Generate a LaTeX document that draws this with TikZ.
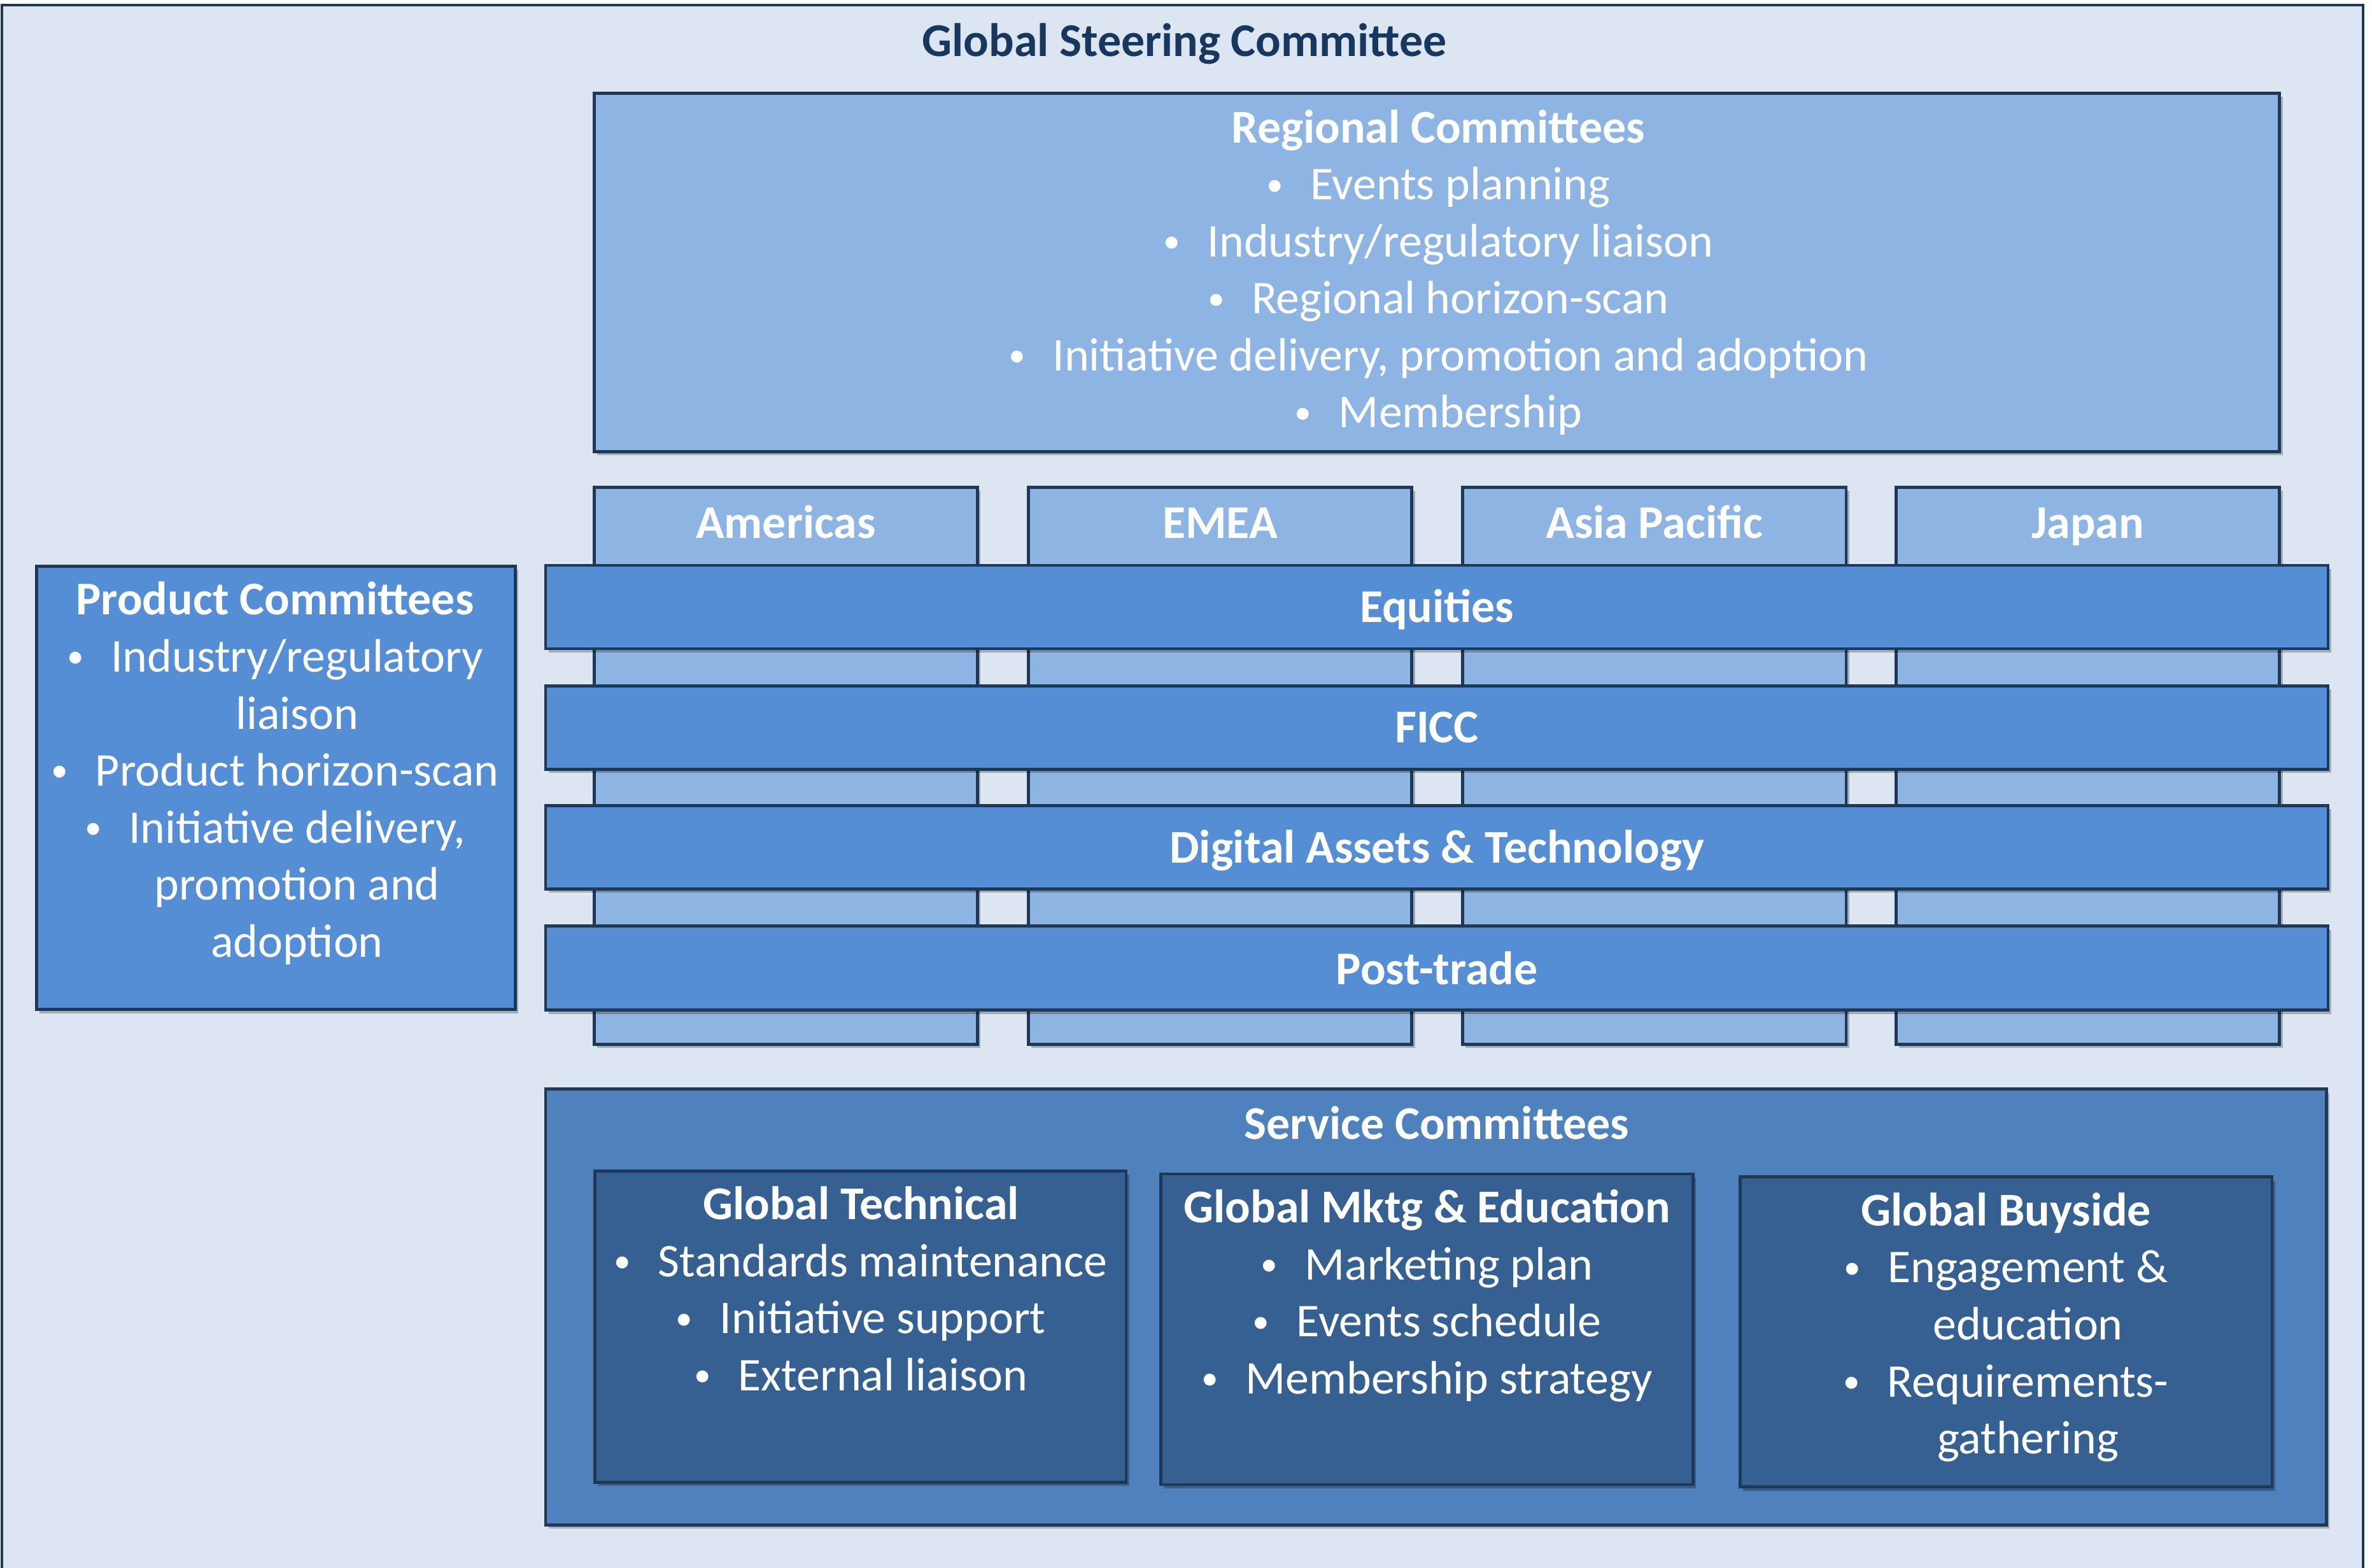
\documentclass[tikz,border=0pt]{standalone}
\usepackage{fontspec}
\setmainfont{Carlito}
\usetikzlibrary{shadows,fit}
\definecolor{framefill}{HTML}{DCE6F2}
\definecolor{lightblue}{HTML}{8EB4E3}
\definecolor{midblue}{HTML}{558ED5}
\definecolor{servblue}{HTML}{4F81BD}
\definecolor{darkblue}{HTML}{376092}
\definecolor{edgecol}{HTML}{1F3856}
\definecolor{titlecol}{HTML}{17375E}
\newcommand\mybullet{\makebox[29pt][l]{\raisebox{0.09em}{\scalebox{0.72}{•}}}}
\newcommand\contind{\hspace*{29pt}}
\begin{document}
\begin{tikzpicture}[x=1pt,y=-1pt,
  box/.style={draw=edgecol, line width=2pt, inner sep=-1pt,
    drop shadow={shadow xshift=2pt, shadow yshift=-2.5pt, opacity=0.25, fill=black}},
  framebox/.style={draw=edgecol, line width=1.7pt, fill=framefill, inner sep=0pt},
  txt/.style={text=white, font=\fontsize{31}{37.6}\selectfont, inner sep=0pt, align=center},
  ttl/.style={text=titlecol, font=\fontsize{31}{37.6}\selectfont\bfseries, inner sep=0pt}
]
\fill[white] (0,0) rectangle (1565,1034.5);
\useasboundingbox (0,0) rectangle (1565,1034.5);

% outer frame
\node[framebox, fit={(1.3,3.2) (1559,1045)}] (frame) {};
\node[ttl, anchor=base] (title) at (781.5,37) {Global Steering Committee};

% regional committees
\node[box, fill=lightblue, fit={(391,60.5) (1505,299)}] (reg) {};
\node[txt, anchor=north] (regtxt) at (949,67.7) {\strut\textbf{Regional Committees}\\
  \mybullet Events planning\\
  \mybullet Industry/regulatory liaison\\
  \mybullet Regional horizon-scan\\
  \mybullet Initiative delivery, promotion and adoption\\
  \mybullet Membership};

% region columns
\node[box, fill=lightblue, fit={(391,320.5) (646,690)}] (colA) {};
\node[box, fill=lightblue, fit={(677.5,320.5) (932.5,690)}] (colB) {};
\node[box, fill=lightblue, fit={(964,320.5) (1219,690)}] (colC) {};
\node[box, fill=lightblue, fit={(1250,320.5) (1505,690)}] (colD) {};
\node[txt, anchor=base] (labA) at (518.5,355) {\textbf{Americas}};
\node[txt, anchor=base] (labB) at (805,355) {\textbf{EMEA}};
\node[txt, anchor=base] (labC) at (1091.5,355) {\textbf{Asia Pacific}};
\node[txt, anchor=base] (labD) at (1377.5,355) {\textbf{Japan}};

% product bars
\node[box, fill=midblue, fit={(359,372) (1537,429)}] (eq) {};
\node[txt, anchor=base] (eqt) at (948,410.5) {\textbf{Equities}};
\node[box, fill=midblue, fit={(359,451.5) (1537,508.5)}] (ficc) {};
\node[txt, anchor=base] (ficct) at (948,490) {\textbf{FICC}};
\node[box, fill=midblue, fit={(359,530.5) (1537,587.5)}] (dig) {};
\node[txt, anchor=base] (digt) at (948,569.5) {\textbf{Digital Assets \& Technology}};
\node[box, fill=midblue, fit={(359,610) (1537,667.5)}] (post) {};
\node[txt, anchor=base] (postt) at (948,649.5) {\textbf{Post-trade}};

% product committees
\node[box, fill=midblue, fit={(23,372.5) (341,667)}] (prod) {};
\node[txt, anchor=north] (prodtxt) at (181.5,379.2) {\strut\textbf{Product Committees}\\
  \mybullet Industry/regulatory\\
  \contind liaison\\
  \mybullet Product horizon-scan\\
  \mybullet Initiative delivery,\\
  \contind promotion and\\
  \contind adoption};

% service committees
\node[box, fill=servblue, fit={(359,717.5) (1536,1007)}] (serv) {};
\node[txt, anchor=base] (servt) at (948,751.5) {\textbf{Service Committees}};

\node[box, fill=darkblue, fit={(391.5,771.5) (744,979)}] (tech) {};
\node[txt, anchor=north] (techtxt) at (568,778.2) {\strut\textbf{Global Technical}\\
  \mybullet Standards maintenance\\
  \mybullet Initiative support\\
  \mybullet External liaison};

\node[box, fill=darkblue, fit={(765,773.5) (1118,980.5)}] (mktg) {};
\node[txt, anchor=north] (mktgtxt) at (941.5,780.2) {\strut\textbf{Global Mktg \& Education}\\
  \mybullet Marketing plan\\
  \mybullet Events schedule\\
  \mybullet Membership strategy};

\node[box, fill=darkblue, fit={(1147,775.5) (1500,982)}] (buy) {};
\node[txt, anchor=north] (buytxt) at (1323.5,782.2) {\strut\textbf{Global Buyside}\\
  \mybullet Engagement \&\\
  \contind education\\
  \mybullet Requirements-\\
  \contind gathering};
\end{tikzpicture}
\end{document}
